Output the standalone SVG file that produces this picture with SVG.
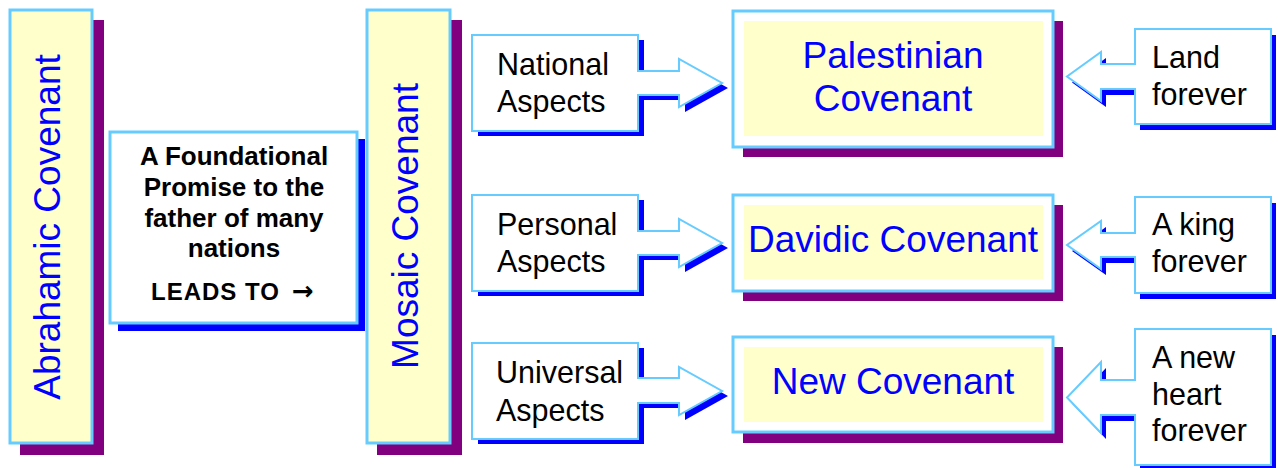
<svg xmlns="http://www.w3.org/2000/svg" width="1278" height="468" viewBox="0 0 1278 468">
<style>
  text { font-family: "Liberation Sans", Arial, sans-serif; }
  .pshadow { fill: #800080; }
  .bshadow { fill: #0000FF; }
  .ybox { fill: #FFFFCC; stroke: #66CCFF; stroke-width: 3; }
  .wbox { fill: #FFFFFF; stroke: #66CCFF; stroke-width: 3; }
  .inner { fill: #FFFFCC; }
  .callout { fill: #FFFFFF; stroke: #66CCFF; stroke-width: 2; stroke-linejoin: miter; }
  .cov { fill: #0000FF; font-size: 37px; text-anchor: middle; }
  .lbl { fill: #000000; font-size: 30.5px; }
  .found { fill: #000000; font-size: 26px; font-weight: bold; text-anchor: middle; }
  .leads { fill: #000000; font-size: 24px; font-weight: bold; letter-spacing: 1px; }
  .arr { font-family: "DejaVu Sans", sans-serif; font-weight: bold; font-size: 26px; letter-spacing: 0; }
</style>
<rect width="1278" height="468" fill="#FFFFFF"/>

<g id="abrahamic">
  <rect class="pshadow" x="20" y="20" width="84" height="435"/>
  <rect class="ybox" x="10" y="10" width="82" height="433"/>
  <text class="cov" transform="translate(60,227) rotate(-90)">Abrahamic Covenant</text>
</g>

<g id="foundational">
  <rect class="bshadow" x="118" y="139" width="247" height="192"/>
  <rect class="wbox" x="110" y="132" width="247" height="191"/>
  <text class="found" x="234" y="165">A Foundational</text>
  <text class="found" x="234" y="196">Promise to the</text>
  <text class="found" x="234" y="227">father of many</text>
  <text class="found" x="234" y="257">nations</text>
  <text class="leads" x="151" y="300">LEADS TO<tspan class="arr" x="292">→</tspan></text>
</g>

<g id="mosaic">
  <rect class="pshadow" x="377" y="20" width="85" height="435"/>
  <rect class="ybox" x="367" y="10" width="83" height="433"/>
  <text class="cov" transform="translate(418,226) rotate(-90)">Mosaic Covenant</text>
</g>

<g id="national">
  <polygon class="bshadow" transform="translate(6,5)" points="472,35 638,35 638,71 679,71 679,59 722,83 679,107 679,95 638,95 638,131 472,131"/>
  <polygon class="callout" points="472,35 638,35 638,71 679,71 679,59 722,83 679,107 679,95 638,95 638,131 472,131"/>
  <text class="lbl" x="497" y="75">National</text>
  <text class="lbl" x="497" y="112">Aspects</text>
</g>

<g id="personal">
  <polygon class="bshadow" transform="translate(6,5)" points="472,195 638,195 638,231 679,231 679,219 722,243 679,267 679,255 638,255 638,291 472,291"/>
  <polygon class="callout" points="472,195 638,195 638,231 679,231 679,219 722,243 679,267 679,255 638,255 638,291 472,291"/>
  <text class="lbl" x="497" y="235">Personal</text>
  <text class="lbl" x="497" y="272">Aspects</text>
</g>

<g id="universal">
  <polygon class="bshadow" transform="translate(6,5)" points="472,343 638,343 638,378 679,378 679,367 722,391 679,415 679,403 638,403 638,439 472,439"/>
  <polygon class="callout" points="472,343 638,343 638,378 679,378 679,367 722,391 679,415 679,403 638,403 638,439 472,439"/>
  <text class="lbl" x="496" y="383">Universal</text>
  <text class="lbl" x="496" y="421">Aspects</text>
</g>

<g id="palestinian">
  <rect class="pshadow" x="743" y="21" width="320" height="136"/>
  <rect class="wbox" x="733" y="11" width="320" height="136"/>
  <rect class="inner" x="744" y="21" width="299" height="115"/>
  <text class="cov" x="893" y="68">Palestinian</text>
  <text class="cov" x="893" y="111">Covenant</text>
</g>

<g id="davidic">
  <rect class="pshadow" x="743" y="205" width="320" height="96"/>
  <rect class="wbox" x="733" y="195" width="320" height="96"/>
  <rect class="inner" x="744" y="205" width="299" height="74"/>
  <text class="cov" x="893" y="252">Davidic Covenant</text>
</g>

<g id="new">
  <rect class="pshadow" x="743" y="347" width="320" height="96"/>
  <rect class="wbox" x="733" y="337" width="320" height="95"/>
  <rect class="inner" x="744" y="347" width="299" height="75"/>
  <text class="cov" x="893" y="394">New Covenant</text>
</g>

<g id="land">
  <polygon class="bshadow" transform="translate(5,6)" points="1271,29 1135,29 1135,64 1101,64 1101,52 1067,76.5 1101,101 1101,89 1135,89 1135,124 1271,124"/>
  <polygon class="callout" points="1271,29 1135,29 1135,64 1101,64 1101,52 1067,76.5 1101,101 1101,89 1135,89 1135,124 1271,124"/>
  <text class="lbl" x="1152" y="68">Land</text>
  <text class="lbl" x="1152" y="105">forever</text>
</g>

<g id="king">
  <polygon class="bshadow" transform="translate(5,6)" points="1271,197 1135,197 1135,233 1101,233 1101,221 1067,245 1101,269 1101,257 1135,257 1135,293 1271,293"/>
  <polygon class="callout" points="1271,197 1135,197 1135,233 1101,233 1101,221 1067,245 1101,269 1101,257 1135,257 1135,293 1271,293"/>
  <text class="lbl" x="1152" y="235">A king</text>
  <text class="lbl" x="1152" y="272">forever</text>
</g>

<g id="heart">
  <polygon class="bshadow" transform="translate(5,6)" points="1271,329 1135,329 1135,380 1101,380 1101,362 1067,397.5 1101,433 1101,415 1135,415 1135,465 1271,465"/>
  <polygon class="callout" points="1271,329 1135,329 1135,380 1101,380 1101,362 1067,397.5 1101,433 1101,415 1135,415 1135,465 1271,465"/>
  <text class="lbl" x="1152" y="368">A new</text>
  <text class="lbl" x="1152" y="405">heart</text>
  <text class="lbl" x="1152" y="441">forever</text>
</g>

<g id="connectors"></g>
</svg>
